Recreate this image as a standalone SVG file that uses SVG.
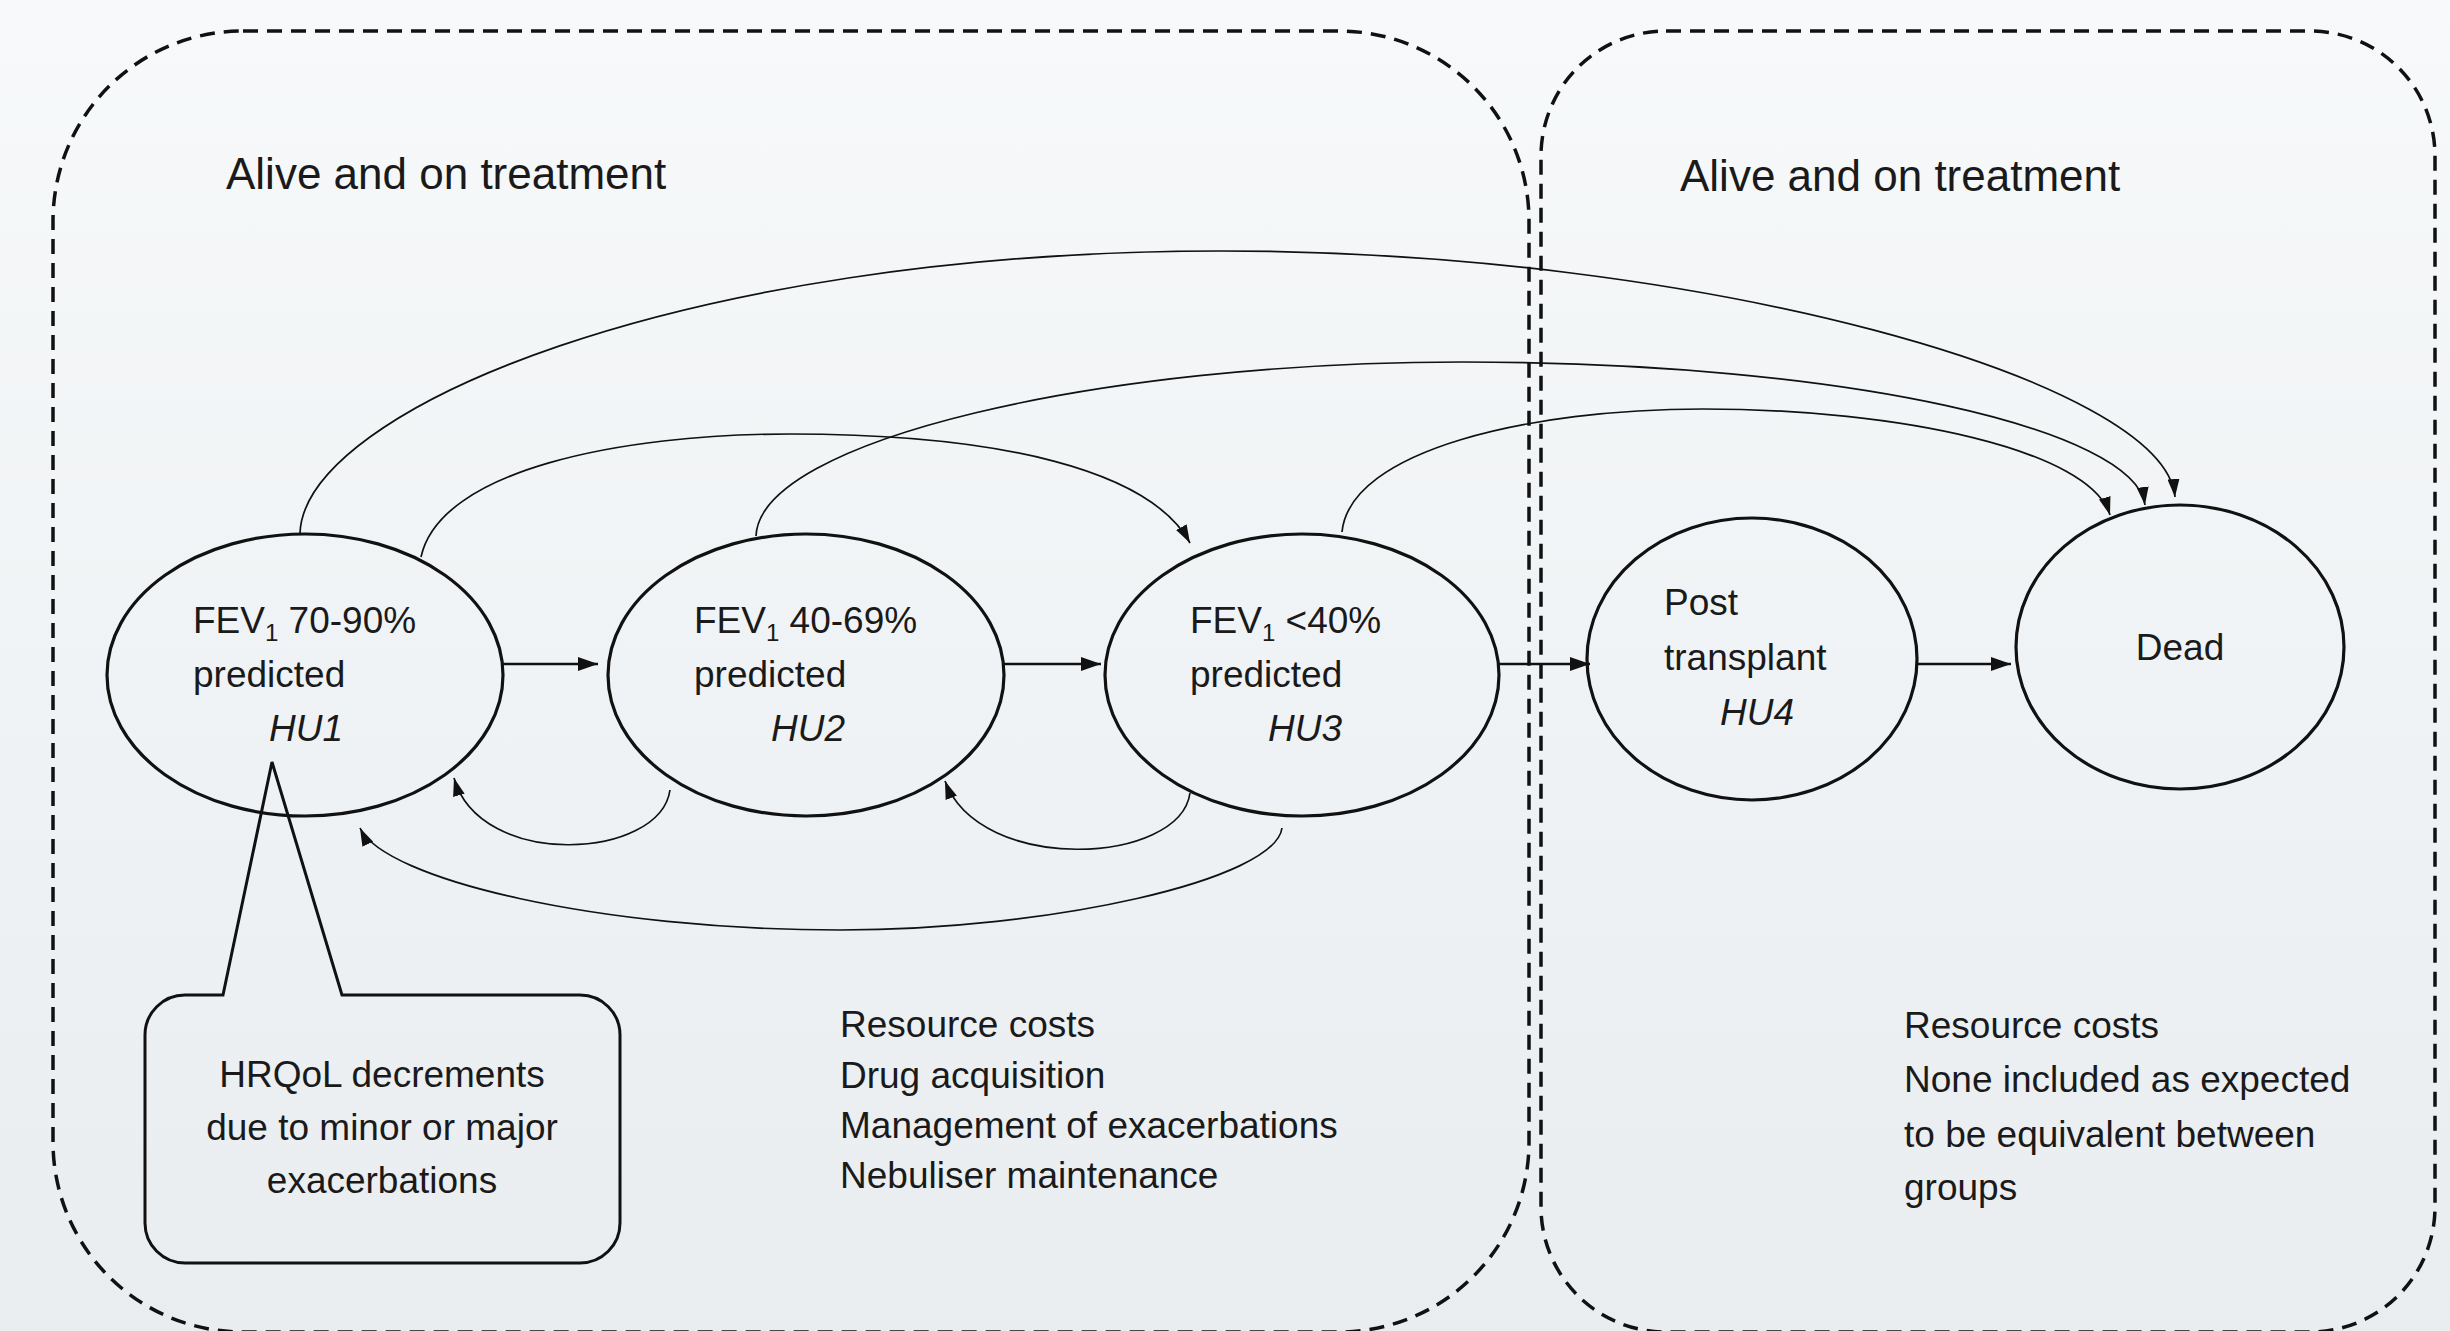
<svg xmlns="http://www.w3.org/2000/svg" width="2450" height="1331" viewBox="0 0 2450 1331">
  <defs>
    <linearGradient id="bg" x1="0" y1="0" x2="0" y2="1">
      <stop offset="0" stop-color="#f7f9fa"/>
      <stop offset="1" stop-color="#e9edf0"/>
    </linearGradient>
    <marker id="ah" markerWidth="20" markerHeight="14" refX="20" refY="7" orient="auto" markerUnits="userSpaceOnUse">
      <path d="M0,0 L20,7 L0,14 Z" fill="#111"/>
    </marker>
    <marker id="ahs" markerWidth="18" markerHeight="12" refX="18" refY="6" orient="auto" markerUnits="userSpaceOnUse">
      <path d="M0,0 L18,6 L0,12 Z" fill="#111"/>
    </marker>
    <style>
      .region { fill: none; stroke: #111; stroke-width: 3.5; stroke-dasharray: 15 9; }
      .state { fill: none; stroke: #111; stroke-width: 3.2; }
      .txt { font-family: "Liberation Sans", Arial, sans-serif; font-size: 37px; fill: #1a1a1a; }
      .title { font-family: "Liberation Sans", Arial, sans-serif; font-size: 44px; fill: #1a1a1a; }
      .hu { font-style: italic; }
      .straight { fill: none; stroke: #111; stroke-width: 2.5; marker-end: url(#ah); }
      .curve { fill: none; stroke: #111; stroke-width: 1.7; marker-end: url(#ahs); }
      .callout { fill: none; stroke: #111; stroke-width: 3; }
    </style>
  </defs>

  <rect x="0" y="0" width="2450" height="1331" fill="url(#bg)"/>

  <g id="region-left">
    <rect class="region" x="53" y="31" width="1476" height="1301" rx="190" ry="190"/>
    <text class="title" x="226" y="189">Alive and on treatment</text>
  </g>
  <g id="region-right">
    <rect class="region" x="1541" y="31" width="894" height="1301" rx="125" ry="125"/>
    <text class="title" x="1680" y="191">Alive and on treatment</text>
  </g>

  <g id="connectors">
    <!-- forward transitions -->
    <line class="straight" x1="502" y1="664" x2="598" y2="664"/>
    <line class="straight" x1="1004" y1="664" x2="1101" y2="664"/>
    <line class="straight" x1="1499" y1="664" x2="1590" y2="664"/>
    <line class="straight" x1="1917" y1="664" x2="2011" y2="664"/>
    <!-- arcs to Dead / HU3 -->
    <path class="curve" d="M300,533 C305,410 680,251 1222,251 C1700,251 2165,380 2175,497"/>
    <path class="curve" d="M421,557 C440,470 620,434 790,434 C1000,434 1150,470 1190,543"/>
    <path class="curve" d="M756,536 C760,440 1100,362 1462,362 C1850,362 2135,430 2145,505"/>
    <path class="curve" d="M1342,532 C1350,450 1530,409 1703,409 C1900,409 2090,450 2110,515"/>
    <!-- back transitions -->
    <path class="curve" d="M670,790 C660,860 480,870 454,778"/>
    <path class="curve" d="M1190,793 C1180,865 980,875 945,781"/>
    <path class="curve" d="M1282,828 C1275,880 1050,930 840,930 C600,930 385,880 360,828"/>
  </g>

  <g id="hu1">
    <ellipse class="state" cx="305" cy="675" rx="198" ry="141"/>
    <text class="txt" x="193" y="633">FEV<tspan font-size="24" dy="8">1</tspan><tspan dy="-8"> 70-90%</tspan></text>
    <text class="txt" x="193" y="687">predicted</text>
    <text class="txt hu" x="269" y="741">HU1</text>
  </g>
  <g id="hu2">
    <ellipse class="state" cx="806" cy="675" rx="198" ry="141"/>
    <text class="txt" x="694" y="633">FEV<tspan font-size="24" dy="8">1</tspan><tspan dy="-8"> 40-69%</tspan></text>
    <text class="txt" x="694" y="687">predicted</text>
    <text class="txt hu" x="771" y="741">HU2</text>
  </g>
  <g id="hu3">
    <ellipse class="state" cx="1302" cy="675" rx="197" ry="141"/>
    <text class="txt" x="1190" y="633">FEV<tspan font-size="24" dy="8">1</tspan><tspan dy="-8"> &lt;40%</tspan></text>
    <text class="txt" x="1190" y="687">predicted</text>
    <text class="txt hu" x="1268" y="741">HU3</text>
  </g>
  <g id="hu4">
    <ellipse class="state" cx="1752" cy="659" rx="165" ry="141"/>
    <text class="txt" x="1664" y="615">Post</text>
    <text class="txt" x="1664" y="670">transplant</text>
    <text class="txt hu" x="1720" y="725">HU4</text>
  </g>
  <g id="dead">
    <ellipse class="state" cx="2180" cy="647" rx="164" ry="142"/>
    <text class="txt" x="2180" y="660" text-anchor="middle">Dead</text>
  </g>

  <g id="callout">
    <path class="callout" d="M223,995 L272,762 L342,995 H580 A40,40 0 0 1 620,1035 V1223 A40,40 0 0 1 580,1263 H185 A40,40 0 0 1 145,1223 V1035 A40,40 0 0 1 185,995 Z"/>
    <text class="txt" x="382" y="1087" text-anchor="middle">HRQoL decrements</text>
    <text class="txt" x="382" y="1140" text-anchor="middle">due to minor or major</text>
    <text class="txt" x="382" y="1193" text-anchor="middle">exacerbations</text>
  </g>

  <g id="costs-left">
    <text class="txt" x="840" y="1037">Resource costs</text>
    <text class="txt" x="840" y="1088">Drug acquisition</text>
    <text class="txt" x="840" y="1138">Management of exacerbations</text>
    <text class="txt" x="840" y="1188">Nebuliser maintenance</text>
  </g>
  <g id="costs-right">
    <text class="txt" x="1904" y="1038">Resource costs</text>
    <text class="txt" x="1904" y="1092">None included as expected</text>
    <text class="txt" x="1904" y="1147">to be equivalent between</text>
    <text class="txt" x="1904" y="1200">groups</text>
  </g>
</svg>
